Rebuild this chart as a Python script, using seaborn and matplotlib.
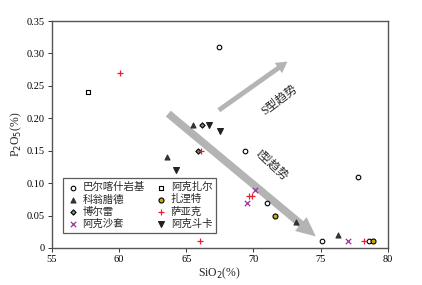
import numpy as np
import pandas as pd
import matplotlib
matplotlib.use("Agg")
import matplotlib.pyplot as plt
import seaborn as sns

# 数据 ======================================
groups = ["巴尔喀什岩基", "阿克扎尔", "科翁腊德", "扎涅特", "博尔雷", "萨亚克", "阿克沙套", "阿克斗卡"]

sio2_balkhash = [67.4, 69.4, 71.0, 75.1, 77.8, 78.6]
p2o5_balkhash = [0.31, 0.15, 0.07, 0.01, 0.11, 0.01]
sio2_akzhar = [57.7]
p2o5_akzhar = [0.24]
sio2_kounrad = [65.5, 63.6, 73.2, 76.3]
p2o5_kounrad = [0.19, 0.14, 0.04, 0.02]
sio2_zhanet = [71.6, 78.9]
p2o5_zhanet = [0.05, 0.01]
sio2_borly = [66.2, 65.9]
p2o5_borly = [0.19, 0.15]
sio2_sayak = [60.1, 66.1, 69.7, 69.9, 66.0, 78.2]
p2o5_sayak = [0.27, 0.15, 0.08, 0.08, 0.01, 0.01]
sio2_akshatau = [69.5, 70.1, 77.0]
p2o5_akshatau = [0.07, 0.09, 0.01]
sio2_aktogai = [66.7, 67.5, 64.2]
p2o5_aktogai = [0.19, 0.18, 0.12]

sio2_all = [sio2_balkhash, sio2_akzhar, sio2_kounrad, sio2_zhanet, sio2_borly, sio2_sayak, sio2_akshatau, sio2_aktogai]
p2o5_all = [p2o5_balkhash, p2o5_akzhar, p2o5_kounrad, p2o5_zhanet, p2o5_borly, p2o5_sayak, p2o5_akshatau, p2o5_aktogai]

df = pd.concat(
    [pd.DataFrame({"SiO2": x, "P2O5": y, "group": g}) for g, x, y in zip(groups, sio2_all, p2o5_all)],
    ignore_index=True,
)

styles = {
    "巴尔喀什岩基": dict(marker="o", facecolor="white", edgecolor="black", s=11),
    "阿克扎尔": dict(marker="s", facecolor="white", edgecolor="black", s=10),
    "科翁腊德": dict(marker="^", facecolor="#333333", edgecolor="#333333", s=13),
    "扎涅特": dict(marker="o", facecolor="#c9a800", edgecolor="black", s=13),
    "博尔雷": dict(marker="D", facecolor="#888888", edgecolor="black", s=7),
    "萨亚克": dict(marker="+", facecolor="#e8202a", edgecolor="#e8202a", s=24),
    "阿克沙套": dict(marker="x", facecolor="#a0309a", edgecolor="#a0309a", s=15),
    "阿克斗卡": dict(marker="v", facecolor="#222222", edgecolor="#222222", s=18),
}

sns.set_style("ticks")
plt.rcParams["font.family"] = ["Liberation Serif", "Noto Sans CJK SC", "DejaVu Sans"]

fig = plt.figure(figsize=(4.22, 2.85), dpi=100)
ax = fig.add_axes([0.123, 0.13, 0.796, 0.796])

# 趋势箭头
ax.annotate("", xy=(72.7, 0.29), xytext=(67.25, 0.21),
            arrowprops=dict(arrowstyle="simple,head_length=0.8,head_width=0.9,tail_width=0.35",
                            color="#b4b4b4", lw=0))
ax.annotate("", xy=(74.8, 0.015), xytext=(63.5, 0.21),
            arrowprops=dict(arrowstyle="simple,head_length=1.4,head_width=1.3,tail_width=0.55",
                            color="#b4b4b4", lw=0))
ax.text(71.9, 0.228, "S型趋势", rotation=37, ha="center", va="center", fontsize=8.5,
        family=["Liberation Serif", "Noto Sans CJK SC"])
ax.text(71.4, 0.128, "I型趋势", rotation=-43, ha="center", va="center", fontsize=8.5,
        family=["Liberation Serif", "Noto Sans CJK SC"])

for g in groups:
    st = styles[g]
    sub = df[df["group"] == g]
    if st["marker"] in ("+", "x"):
        sns.scatterplot(data=sub, x="SiO2", y="P2O5", ax=ax, marker=st["marker"], color=st["edgecolor"],
                        s=st["s"], linewidth=0.9, label=g, zorder=3)
    else:
        sns.scatterplot(data=sub, x="SiO2", y="P2O5", ax=ax, marker=st["marker"], color=st["facecolor"],
                        edgecolor=st["edgecolor"], s=st["s"], linewidth=0.8, label=g, zorder=3)

ax.set_xlim(55, 80)
ax.set_ylim(0, 0.35)
ax.set_xticks([55, 60, 65, 70, 75, 80])
ax.set_yticks([0, 0.05, 0.10, 0.15, 0.20, 0.25, 0.30, 0.35])
ax.set_yticklabels(["0", "0.05", "0.10", "0.15", "0.20", "0.25", "0.30", "0.35"])
ax.tick_params(labelsize=7.5, length=3, width=0.7, colors="#333333", labelcolor="black", pad=2)
for sp in ax.spines.values():
    sp.set_color("#555555")
    sp.set_linewidth(1.0)

ax.set_xlabel("SiO$_2$(%)", fontsize=8.5, labelpad=1)
ax.set_ylabel("P$_2$O$_5$(%)", fontsize=8.5, labelpad=2)

order = ["巴尔喀什岩基", "科翁腊德", "博尔雷", "阿克沙套", "阿克扎尔", "扎涅特", "萨亚克", "阿克斗卡"]
handles, labels = ax.get_legend_handles_labels()
hmap = dict(zip(labels, handles))
leg = ax.legend([hmap[l] for l in order], order, ncol=2, loc="lower left",
                bbox_to_anchor=(0.018, 0.045), frameon=True, fancybox=False,
                edgecolor="#333333", handletextpad=0.3, columnspacing=1.0, labelspacing=0.2,
                borderpad=0.35, handlelength=1.2,
                prop={"family": ["Noto Sans CJK SC", "DejaVu Sans"], "size": 7.5})
leg.get_frame().set_linewidth(0.9)

fig.savefig("out.png", dpi=100)
